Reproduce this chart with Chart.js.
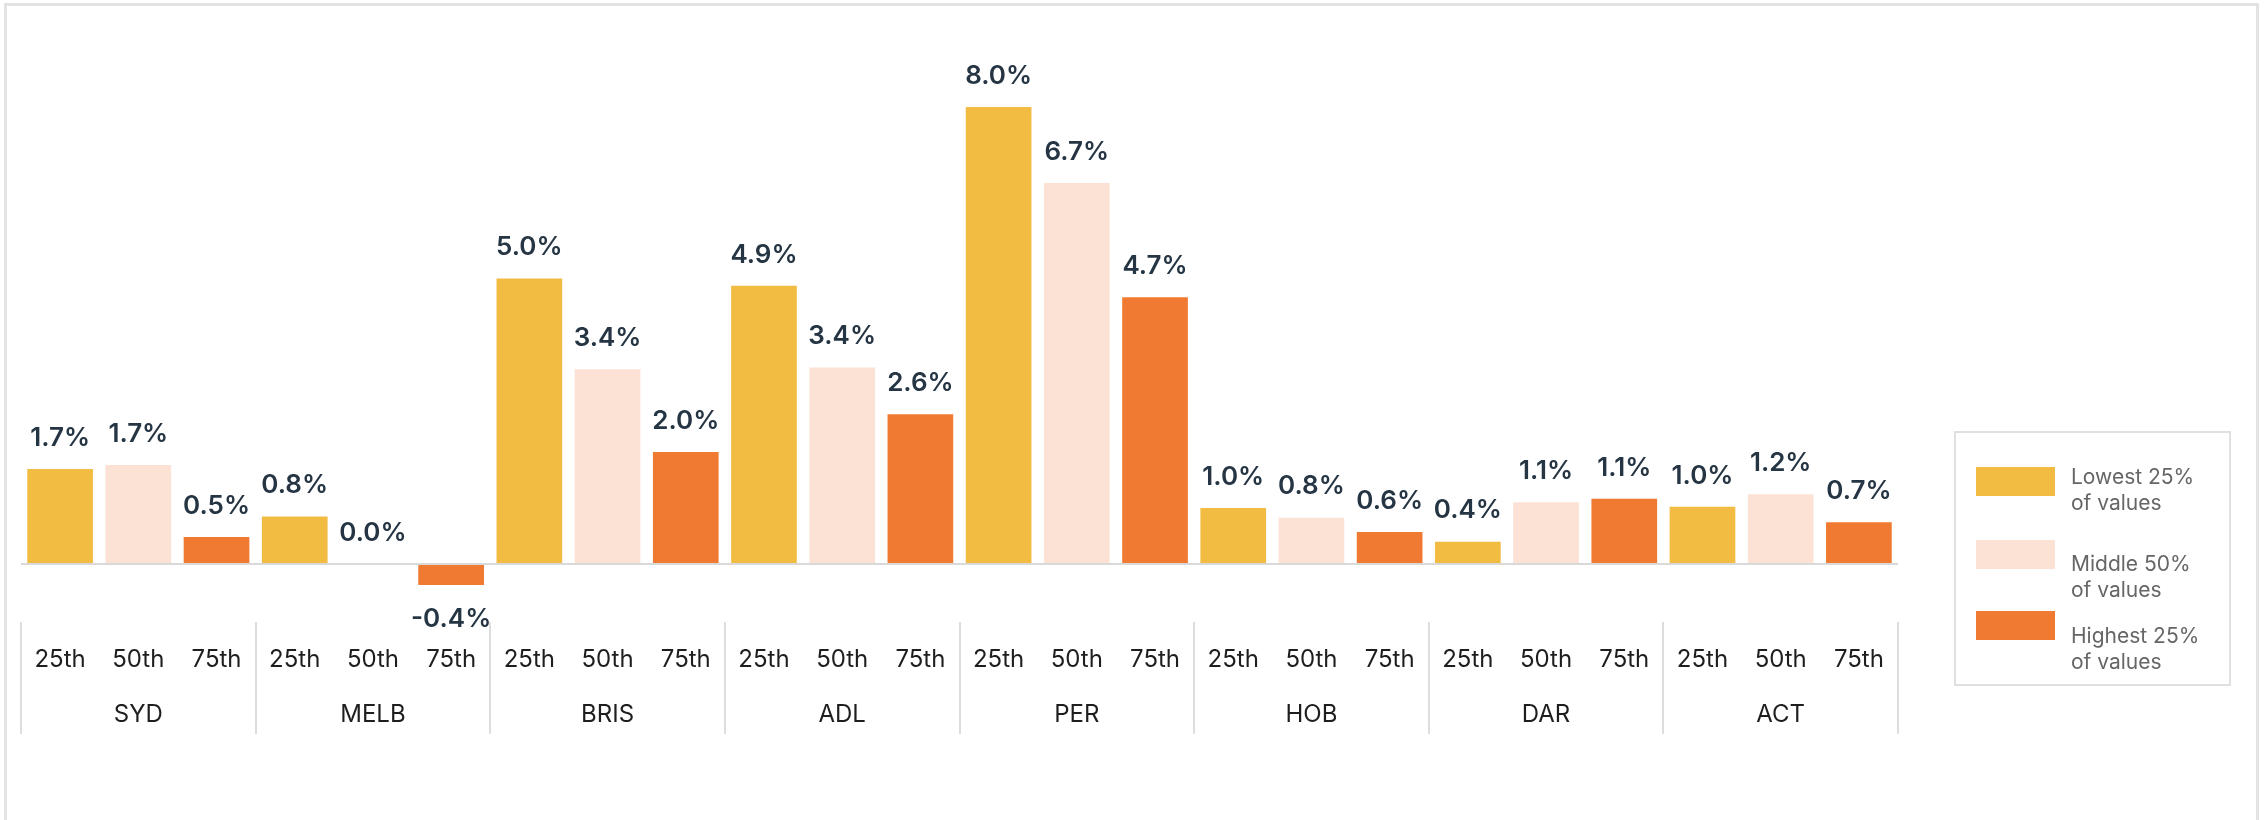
<!DOCTYPE html>
<html>
<head>
<meta charset="utf-8">
<script src="https://cdn.jsdelivr.net/npm/chart.js@4.4.1/dist/chart.umd.min.js"></script>
<style>
html,body{margin:0;padding:0;background:#fff;}
#wrap{position:relative;width:2264px;height:820px;overflow:hidden;background:#fff;}
#frame{position:absolute;left:4px;top:3px;width:2255px;height:1000px;border:3px solid #e3e3e3;box-sizing:border-box;}
#chart{position:absolute;left:0;top:0;}
#legend{position:absolute;left:1954px;top:431px;width:277px;height:255px;border:2px solid #e0e0e0;box-sizing:border-box;font-family:Inter, "Open Sans", sans-serif;}
.sw{position:absolute;left:20px;width:79px;height:29px;}
.tx{position:absolute;left:115px;font-size:21px;line-height:26px;color:#666666;white-space:nowrap;}
</style>
</head>
<body>
<div id="wrap">
  <div id="frame"></div>
  <canvas id="chart" width="2264" height="820"></canvas>
  <div id="legend"></div>
</div>
<script>
// ---- data ----
const cities = ['SYD', 'MELB', 'BRIS', 'ADL', 'PER', 'HOB', 'DAR', 'ACT'];
const percentiles = ['25th', '50th', '75th'];
const p25 = [1.66, 0.83, 5.00, 4.87, 8.00, 0.98, 0.39, 1.00];
const p50 = [1.73, 0.00, 3.41, 3.44, 6.67, 0.81, 1.08, 1.22];
const p75 = [0.47, -0.37, 1.96, 2.62, 4.67, 0.56, 1.14, 0.73];
const seriesColors = ['#F2BC42', '#FCE2D5', '#F07A31'];
const legendLabels = [['Lowest 25%', 'of values'], ['Middle 50%', 'of values'], ['Highest 25%', 'of values']];

// ---- build flat data ----
const series = [p25, p50, p75];
const labels = [], values = [], colors = [];
cities.forEach((c, ci) => {
  percentiles.forEach((p, pi) => {
    labels.push(c + ' ' + p);
    values.push(series[pi][ci]);
    colors.push(seriesColors[pi]);
  });
});

// ---- legend (HTML) ----
const legendEl = document.getElementById('legend');
const swTops = [34, 107, 178];
const txTops = [31, 118, 190];
legendLabels.forEach((lines, i) => {
  const sw = document.createElement('div');
  sw.className = 'sw'; sw.style.top = swTops[i] + 'px'; sw.style.background = seriesColors[i];
  legendEl.appendChild(sw);
  const tx = document.createElement('div');
  tx.className = 'tx'; tx.style.top = txTops[i] + 'px';
  tx.innerHTML = lines.join('<br>');
  legendEl.appendChild(tx);
});

// ---- value labels plugin ----
const valueLabels = {
  id: 'valueLabels',
  afterDatasetsDraw(chart) {
    const ctx = chart.ctx;
    const meta = chart.getDatasetMeta(0);
    const data = chart.data.datasets[0].data;
    ctx.save();
    ctx.font = '600 26px Inter, "Open Sans", sans-serif';
    ctx.fillStyle = '#253544';
    ctx.textAlign = 'center';
    ctx.textBaseline = 'middle';
    meta.data.forEach((bar, i) => {
      const v = data[i];
      const y = v < 0 ? bar.y + 34 : bar.y - 31;
      ctx.fillText(v.toFixed(1) + '%', bar.x, y);
    });
    ctx.restore();
  }
};

// ---- group separators on the category axis ----
const groupSeparators = {
  id: 'groupSeparators',
  afterDraw(chart) {
    const xs = chart.scales.x;
    const ctx = chart.ctx;
    const half = (xs.getPixelForValue(1) - xs.getPixelForValue(0)) / 2;
    ctx.save();
    ctx.strokeStyle = '#dddddd';
    ctx.lineWidth = 2;
    for (let g = 0; g <= cities.length; g++) {
      const x = Math.round(xs.getPixelForValue(g * percentiles.length) - half);
      ctx.beginPath();
      ctx.moveTo(x, xs.top + 1);
      ctx.lineTo(x, xs.top + 113);
      ctx.stroke();
    }
    ctx.restore();
  }
};

new Chart(document.getElementById('chart'), {
  type: 'bar',
  data: {
    labels: labels,
    datasets: [{
      data: values,
      backgroundColor: colors,
      borderWidth: 0,
      barPercentage: 0.84,
      categoryPercentage: 1.0
    }]
  },
  options: {
    responsive: false,
    devicePixelRatio: 1,
    animation: false,
    layout: { padding: { left: 21, right: 366, top: 50, bottom: 66 } },
    plugins: { legend: { display: false }, tooltip: { enabled: false } },
    scales: {
      x: {
        offset: true,
        border: { display: false },
        grid: { display: false, drawTicks: false },
        ticks: {
          autoSkip: false,
          maxRotation: 0,
          minRotation: 0,
          padding: 11.5,
          color: '#1e1e1e',
          font: { family: 'Inter, "Open Sans", sans-serif', size: 24, lineHeight: '55px' },
          callback: function (value, index) {
            const pi = index % 3;
            const ci = Math.floor(index / 3);
            return [percentiles[pi], pi === 1 ? cities[ci] : ''];
          }
        }
      },
      y: {
        min: -1,
        max: 9,
        border: { display: false },
        grid: {
          drawTicks: false,
          lineWidth: 2,
          color: (ctx) => (ctx.tick && ctx.tick.value === 0) ? '#d9d9d9' : 'rgba(0,0,0,0)'
        },
        ticks: { display: false, stepSize: 1 }
      }
    }
  },
  plugins: [valueLabels, groupSeparators]
});
</script>
</body>
</html>
